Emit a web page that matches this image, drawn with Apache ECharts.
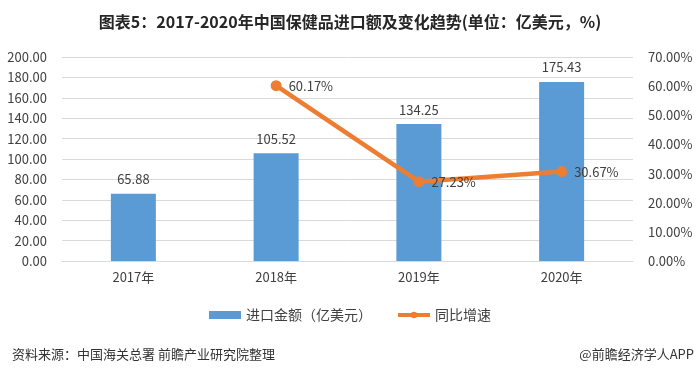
<!DOCTYPE html>
<html><head><meta charset="utf-8">
<script src="https://cdn.jsdelivr.net/npm/echarts@6/dist/echarts.min.js"></script>
<style>html,body{margin:0;padding:0;background:#fff}#c{width:700px;height:371px}</style>
</head><body><div id="c"></div>
<script>
const categories = ['2017年','2018年','2019年','2020年'];
const importValues = [65.88, 105.52, 134.25, 175.43];
const growthRates = [null, 60.17, 27.23, 30.67];
const seriesNames = ['进口金额（亿美元）','同比增速'];

const chart = echarts.init(document.getElementById('c'));
const font = '"Noto Sans CJK SC", "Noto Sans", sans-serif';
chart.setOption({
  animation:false,
  backgroundColor:'#fff',
  title:[
    {text:'图表5：2017-2020年中国保健品进口额及变化趋势(单位：亿美元，%)', left:'center', top:9,
     textStyle:{fontSize:16, fontWeight:'bold', color:'#262626', fontFamily:font}},
    {text:'资料来源：中国海关总署 前瞻产业研究院整理', left:7, top:343,
     textStyle:{fontSize:13, fontWeight:'normal', color:'#333', fontFamily:font}},
    {text:'@前瞻经济学人APP', right:1, top:343,
     textStyle:{fontSize:13, fontWeight:'normal', color:'#333', fontFamily:font}}
  ],
  grid:{left:62, right:67, top:57, bottom:110, containLabel:false},
  legend:{
    data:[{name:seriesNames[0], icon:'rect'}, {name:seriesNames[1], lineStyle:{width:4}}],
    left:'center', top:303, itemGap:24, itemWidth:32, itemHeight:8,
    textStyle:{fontSize:14, color:'#404040', fontFamily:font}
  },
  xAxis:{type:'category', data:categories,
    axisLine:{lineStyle:{color:'#d9d9d9'}}, axisTick:{show:false},
    axisLabel:{fontSize:13, color:'#404040', margin:10, fontFamily:font}},
  yAxis:[
    {type:'value', min:0, max:200, interval:20,
     axisLine:{show:false}, axisTick:{show:false},
     splitLine:{lineStyle:{color:'#d9d9d9'}},
     axisLabel:{fontSize:13, color:'#404040', margin:15, fontFamily:font, formatter:v=>v.toFixed(2)}},
    {type:'value', min:0, max:70, interval:10, position:'right',
     axisLine:{show:false}, axisTick:{show:false}, splitLine:{show:false},
     axisLabel:{fontSize:13, color:'#404040', margin:15, fontFamily:font, formatter:v=>v.toFixed(2)+'%'}}
  ],
  series:[
    {name:seriesNames[0], type:'bar', data:importValues, barWidth:45,
     itemStyle:{color:'#5B9BD5'},
     label:{show:true, position:'top', distance:8, fontSize:13, color:'#404040', fontFamily:font,
            formatter:p=>p.value.toFixed(2)}},
    {name:seriesNames[1], type:'line', yAxisIndex:1, data:growthRates,
     symbol:'circle', symbolSize:11, lineStyle:{width:4.5, color:'#ED7D31'},
     itemStyle:{color:'#ED7D31'},
     label:{show:true, position:'right', distance:7, fontSize:13, color:'#404040', fontFamily:font,
            formatter:p=>p.value.toFixed(2)+'%'}}
  ]
});
</script></body></html>
